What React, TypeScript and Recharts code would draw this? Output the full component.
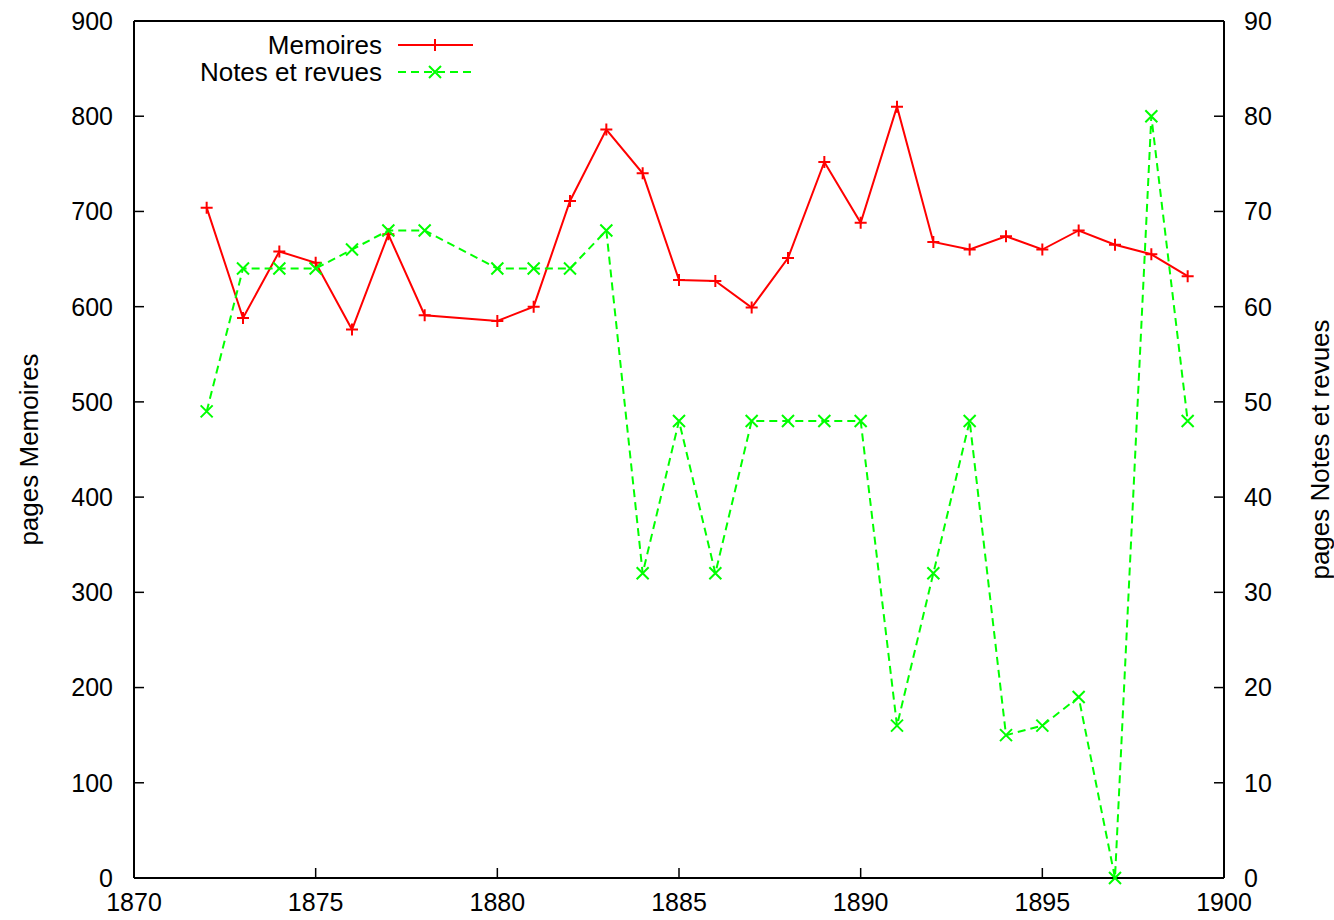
import { LineChart, Line, XAxis, YAxis, Legend, Label } from 'recharts'

// Pages per year, 1872-1899 (no volume for 1879)
const years = [
  1872, 1873, 1874, 1875, 1876, 1877, 1878, 1880, 1881, 1882, 1883, 1884, 1885, 1886,
  1887, 1888, 1889, 1890, 1891, 1892, 1893, 1894, 1895, 1896, 1897, 1898, 1899,
]
const memoires = [
  704, 588, 658, 646, 576, 676, 591, 585, 600, 711, 786, 740, 628, 627,
  599, 651, 752, 688, 810, 668, 660, 674, 660, 680, 665, 655, 632,
]
const notes = [
  49, 64, 64, 64, 66, 68, 68, 64, 64, 64, 68, 32, 48, 32,
  48, 48, 48, 48, 16, 32, 48, 15, 16, 19, 0, 80, 48,
]

const yearTicks = [1870, 1875, 1880, 1885, 1890, 1895, 1900]
const leftTicks = [0, 100, 200, 300, 400, 500, 600, 700, 800, 900]
const rightTicks = [0, 10, 20, 30, 40, 50, 60, 70, 80, 90]

const data = years.map((year, i) => ({ year, memoires: memoires[i], notes: notes[i] }))

const FONT = '"Liberation Sans", Arial, sans-serif'
const RED = '#ff0000'
const GREEN = '#00ff00'

const tickStyle = { fill: '#000', fontSize: 25, fontFamily: FONT }
const axisLine = { stroke: '#000', strokeWidth: 2 }
const tickLine = { stroke: '#000', strokeWidth: 1.5 }

const plusPath = (x: number, y: number, r = 6) => `M${x - r},${y}H${x + r}M${x},${y - r}V${y + r}`
const crossPath = (x: number, y: number, r = 6) =>
  `M${x - r},${y - r}L${x + r},${y + r}M${x - r},${y + r}L${x + r},${y - r}`

const PlusDot = (props: any) => {
  const { cx, cy, index } = props
  if (cx == null || cy == null) return <g key={index} />
  return <path key={index} d={plusPath(cx, cy)} stroke={RED} strokeWidth={2} fill="none" />
}

const CrossDot = (props: any) => {
  const { cx, cy, index } = props
  if (cx == null || cy == null) return <g key={index} />
  return <path key={index} d={crossPath(cx, cy)} stroke={GREEN} strokeWidth={2} fill="none" />
}

// gnuplot-style key: right-aligned titles with a line sample
const KeyBox = () => (
  <svg width={300} height={60} style={{ overflow: 'visible' }}>
    <g fontFamily={FONT} fontSize={26} fill="#000">
      <text x={192} y={15} textAnchor="end" dominantBaseline="central">Memoires</text>
      <text x={192} y={42} textAnchor="end" dominantBaseline="central">Notes et revues</text>
    </g>
    <line x1={208} x2={283} y1={15} y2={15} stroke={RED} strokeWidth={2} />
    <path d={plusPath(245, 15)} stroke={RED} strokeWidth={2} />
    <line x1={208} x2={283} y1={42} y2={42} stroke={GREEN} strokeWidth={2} strokeDasharray="8 5" />
    <path d={crossPath(245, 42)} stroke={GREEN} strokeWidth={2} />
  </svg>
)

const AxisTitle = ({ viewBox, offset, text }: any) => {
  const x = viewBox.x + offset
  const y = viewBox.y + viewBox.height / 2
  return (
    <text
      transform={`translate(${x},${y}) rotate(-90)`}
      textAnchor="middle"
      dominantBaseline="central"
      fontFamily={FONT}
      fontSize={26}
      fill="#000"
    >
      {text}
    </text>
  )
}

export default function App() {
  return (
    <div style={{ position: 'absolute', left: 0, top: 0, background: '#fff' }}>
      <LineChart width={1334} height={920} data={data} margin={{ top: 0, right: 0, bottom: 0, left: 0 }}>
        <XAxis
          dataKey="year"
          type="number"
          domain={[1870, 1900]}
          ticks={yearTicks}
          height={42}
          axisLine={axisLine}
          tickLine={tickLine}
          tickSize={-10}
          tickMargin={25}
          tick={tickStyle}
        />
        <XAxis
          xAxisId="top"
          orientation="top"
          dataKey="year"
          type="number"
          domain={[1870, 1900]}
          ticks={yearTicks}
          height={21}
          axisLine={axisLine}
          tickLine={tickLine}
          tickSize={-10}
          tick={false}
        />
        <YAxis
          yAxisId="left"
          domain={[0, 900]}
          ticks={leftTicks}
          width={134}
          axisLine={axisLine}
          tickLine={tickLine}
          tickSize={-10}
          tickMargin={31}
          tick={tickStyle}
        >
          <Label content={(p: any) => <AxisTitle {...p} offset={29} text="pages Memoires" />} />
        </YAxis>
        <YAxis
          yAxisId="right"
          orientation="right"
          domain={[0, 90]}
          ticks={rightTicks}
          width={110}
          axisLine={axisLine}
          tickLine={tickLine}
          tickSize={-10}
          tickMargin={30}
          tick={tickStyle}
        >
          <Label content={(p: any) => <AxisTitle {...p} offset={96} text="pages Notes et revues" />} />
        </YAxis>
        <Legend
          layout="horizontal"
          verticalAlign="middle"
          align="center"
          wrapperStyle={{ top: 30, left: 190, width: 300, height: 60 }}
          content={() => <KeyBox />}
        />
        <Line
          yAxisId="left"
          type="linear"
          dataKey="memoires"
          name="Memoires"
          stroke={RED}
          strokeWidth={2}
          dot={PlusDot}
          activeDot={false}
          isAnimationActive={false}
        />
        <Line
          yAxisId="right"
          type="linear"
          dataKey="notes"
          name="Notes et revues"
          stroke={GREEN}
          strokeWidth={2}
          strokeDasharray="8 5"
          dot={CrossDot}
          activeDot={false}
          isAnimationActive={false}
        />
      </LineChart>
    </div>
  )
}
